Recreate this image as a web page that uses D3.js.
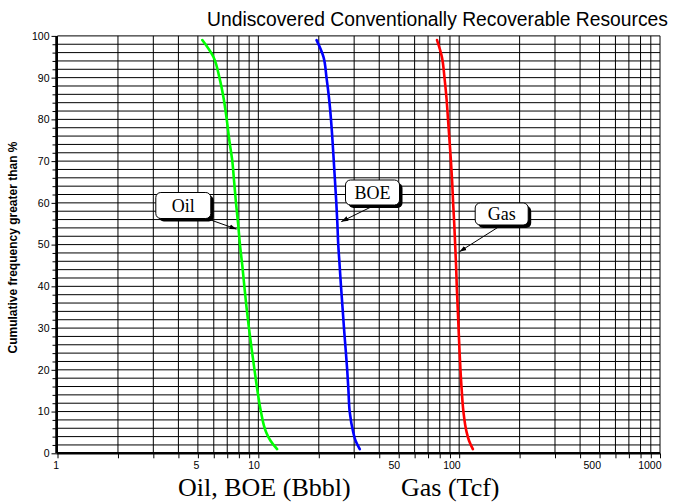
<!DOCTYPE html>
<html>
<head>
<meta charset="utf-8">
<script src="https://cdn.jsdelivr.net/npm/d3@7"></script>
<style>
  html, body { margin: 0; padding: 0; background: #fff; }
  svg { display: block; }
</style>
</head>
<body>
<svg id="chart" width="675" height="503"></svg>
<script>
// Cumulative probability (% greater than) at which each series is sampled
const probabilities = [99, 95, 90, 85, 80, 75, 70, 65, 60, 55, 50, 45, 40, 35, 30, 25, 20, 15, 10, 5, 3, 1];

// Oil and BOE in billion barrels, gas in trillion cubic feet
const oilValues = [5.26, 5.97, 6.40, 6.72, 6.96, 7.17, 7.42, 7.58, 7.74, 7.93, 8.10, 8.32, 8.52, 8.73, 8.98, 9.26, 9.57, 9.90, 10.3, 10.95, 11.5, 12.4];
const boeValues = [19.5, 21.1, 21.85, 22.5, 23.0, 23.4, 23.75, 24.1, 24.45, 24.75, 25.0, 25.4, 25.8, 26.25, 26.7, 27.2, 27.7, 28.1, 28.5, 29.7, 30.5, 32.0];
const gasValues = [77.6, 82.0, 84.5, 86.5, 88.0, 89.5, 91.0, 92.3, 93.3, 94.5, 95.5, 96.5, 97.3, 98.3, 99.3, 100.3, 101.5, 103.0, 105.0, 109.0, 112.0, 117.0];

const seriesNames = ["Oil", "BOE", "Gas"];
const seriesColors = ["#00ff00", "#0000ff", "#ff0000"];

const xTickLabels = [1, 5, 10, 50, 100, 500, 1000];
const yTickLabels = [0, 10, 20, 30, 40, 50, 60, 70, 80, 90, 100];

const svg = d3.select("#chart");

const x = d3.scaleLog().domain([1, 1000]).range([57.5, 660]);
const y = d3.scaleLinear().domain([0, 100]).range([453.3, 35.9]);

// Grid
const grid = svg.append("g").attr("stroke", "#000").attr("stroke-width", 1);
grid.selectAll("line.v").data(x.ticks()).join("line")
  .attr("class", "v")
  .attr("x1", d => x(d)).attr("x2", d => x(d))
  .attr("y1", y(100)).attr("y2", y(0));
grid.selectAll("line.h").data(d3.range(0, 101, 2)).join("line")
  .attr("class", "h")
  .attr("x1", x(1)).attr("x2", x(1000))
  .attr("y1", d => y(d)).attr("y2", d => y(d));

// Bottom axis: a short tick at every grid position, labels at selected values
const xAxis = d3.axisBottom(x)
  .tickValues(x.ticks())
  .tickSize(5)
  .tickFormat(d => xTickLabels.includes(d) ? d : "");
const gx = svg.append("g").attr("transform", `translate(0,${y(0)})`).call(xAxis);
gx.select(".domain").attr("stroke-width", 2.5).attr("d", `M${x(1) - 1},0H${x(1000)}`);
gx.selectAll(".tick line").attr("stroke", "#000");
gx.selectAll(".tick text").filter(d => !xTickLabels.includes(d)).remove();
gx.selectAll(".tick text")
  .attr("text-anchor", "end")
  .attr("dx", "1")
  .attr("y", 8.2)
  .attr("dy", "0.71em")
  .attr("fill", "#000")
  .style("font-family", "'Liberation Sans', Arial, sans-serif")
  .style("font-size", "10.5px");

// Left axis: minor ticks every 2 %, labels every 10 %
const yAxis = d3.axisLeft(y)
  .tickValues(d3.range(0, 101, 2))
  .tickSize(4)
  .tickPadding(3)
  .tickFormat(d => yTickLabels.includes(d) ? d : "");
const gy = svg.append("g").attr("transform", `translate(${x(1) - 1},0)`).call(yAxis);
gy.select(".domain").attr("stroke-width", 2.5).attr("d", `M0,${y(100)}V${y(0)}`);
gy.selectAll(".tick line").attr("stroke", "#000").attr("x2", d => d % 10 === 0 ? -5 : -4);
gy.selectAll(".tick text").filter(d => !yTickLabels.includes(d)).remove();
gy.selectAll(".tick text")
  .attr("x", -7)
  .attr("fill", "#000")
  .style("font-family", "'Liberation Sans', Arial, sans-serif")
  .style("font-size", "10.5px");

// Curves
const seriesValues = [oilValues, boeValues, gasValues];
const line = d3.line()
  .x(d => x(d[0]))
  .y(d => y(d[1]))
  .curve(d3.curveMonotoneY);

svg.append("g").selectAll("path").data(seriesValues).join("path")
  .attr("d", vals => line(vals.map((v, i) => [v, probabilities[i]])))
  .attr("fill", "none")
  .attr("stroke", (d, i) => seriesColors[i])
  .attr("stroke-width", 2.6)
  .attr("stroke-linejoin", "round")
  .attr("stroke-linecap", "round");

// Value of a series at a given probability (interpolated in log space)
function valueAt(vals, p) {
  for (let i = 0; i < probabilities.length - 1; i++) {
    const p0 = probabilities[i], p1 = probabilities[i + 1];
    if (p <= p0 && p >= p1) {
      const t = (p0 - p) / (p0 - p1);
      return Math.exp(Math.log(vals[i]) + t * (Math.log(vals[i + 1]) - Math.log(vals[i])));
    }
  }
  return vals[vals.length - 1];
}

// Callout boxes with arrows pointing at each curve
const callouts = [
  { cx: 183.3, cy: 205.5, w: 55, h: 26, fromX: 208, fromY: 219, p: 53.7, dx: -2 },
  { cx: 372.5, cy: 192.5, w: 54, h: 25, fromX: 373, fromY: 206, p: 55.5, dx: 4 },
  { cx: 501.7, cy: 214.0, w: 53, h: 22, fromX: 500, fromY: 226, p: 48.3, dx: 4 }
];

const defs = svg.append("defs");
defs.append("marker")
  .attr("id", "arrowhead")
  .attr("viewBox", "0 0 10 10")
  .attr("refX", 10).attr("refY", 5)
  .attr("markerWidth", 7).attr("markerHeight", 7)
  .attr("markerUnits", "userSpaceOnUse")
  .attr("orient", "auto")
  .append("path")
  .attr("d", "M0,1.5L10,5L0,8.5Z")
  .attr("fill", "#000");

const cg = svg.append("g");
callouts.forEach((c, i) => {
  const tipX = x(valueAt(seriesValues[i], c.p)) + c.dx;
  const tipY = y(c.p);
  cg.append("line")
    .attr("x1", c.fromX).attr("y1", c.fromY)
    .attr("x2", tipX).attr("y2", tipY)
    .attr("stroke", "#000").attr("stroke-width", 1)
    .attr("marker-end", "url(#arrowhead)");
  // shadow
  cg.append("rect")
    .attr("x", c.cx - c.w / 2 + 3).attr("y", c.cy - c.h / 2 + 3)
    .attr("width", c.w).attr("height", c.h)
    .attr("rx", 5).attr("ry", 5)
    .attr("fill", "#000");
  cg.append("rect")
    .attr("x", c.cx - c.w / 2).attr("y", c.cy - c.h / 2)
    .attr("width", c.w).attr("height", c.h)
    .attr("rx", 5).attr("ry", 5)
    .attr("fill", "#fff").attr("stroke", "#000").attr("stroke-width", 1);
  cg.append("text")
    .attr("x", c.cx).attr("y", c.cy)
    .attr("dy", "0.35em")
    .attr("text-anchor", "middle")
    .style("font-family", "'Liberation Serif', 'Times New Roman', serif")
    .style("font-size", "18px")
    .text(seriesNames[i]);
});

// Titles
svg.append("text")
  .attr("x", 437.5).attr("y", 26)
  .attr("text-anchor", "middle")
  .style("font-family", "'Liberation Sans', Arial, sans-serif")
  .style("font-size", "19.3px")
  .text("Undiscovered Conventionally Recoverable Resources");

svg.append("text")
  .attr("x", 178).attr("y", 495.5)
  .style("font-family", "'Liberation Serif', 'Times New Roman', serif")
  .style("font-size", "26px")
  .text("Oil, BOE (Bbbl)");

svg.append("text")
  .attr("x", 401).attr("y", 495.5)
  .style("font-family", "'Liberation Serif', 'Times New Roman', serif")
  .style("font-size", "26px")
  .text("Gas (Tcf)");

svg.append("text")
  .attr("transform", "translate(16.5,247.5) rotate(-90)")
  .attr("text-anchor", "middle")
  .style("font-family", "'Liberation Sans', Arial, sans-serif")
  .style("font-size", "12px")
  .style("font-weight", "bold")
  .text("Cumulative frequency greater than %");
</script>
</body>
</html>
